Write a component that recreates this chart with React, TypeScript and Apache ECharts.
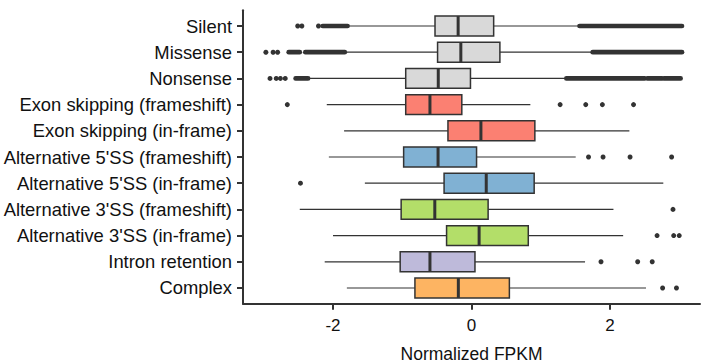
import React, { useEffect, useRef } from "react";
import * as echarts from "echarts";

const categories = [
  "Silent",
  "Missense",
  "Nonsense",
  "Exon skipping (frameshift)",
  "Exon skipping (in-frame)",
  "Alternative 5'SS (frameshift)",
  "Alternative 5'SS (in-frame)",
  "Alternative 3'SS (frameshift)",
  "Alternative 3'SS (in-frame)",
  "Intron retention",
  "Complex",
];

const whiskerLow = [-1.78, -1.83, -2.38, -2.09, -1.84, -2.06, -1.54, -2.48, -2.0, -2.12, -1.8];
const q1 = [-0.527, -0.49, -0.95, -0.95, -0.34, -0.98, -0.396, -1.016, -0.36, -1.03, -0.817];
const median = [-0.193, -0.154, -0.48, -0.6, 0.136, -0.483, 0.213, -0.53, 0.11, -0.6, -0.19];
const q3 = [0.32, 0.41, -0.015, -0.14, 0.915, 0.073, 0.905, 0.24, 0.82, 0.05, 0.547];
const whiskerHigh = [1.56, 1.75, 1.37, 0.85, 2.28, 1.505, 2.77, 2.05, 2.19, 1.64, 2.52];

// isolated outliers: [categoryIndex, value]
const outliers: [number, number][] = [
  [0, -2.21], [0, -2.51], [0, -2.45],
  [1, -2.97], [1, -2.865], [1, -2.8],
  [2, -2.91], [2, -2.82], [2, -2.76], [2, -2.69],
  [3, -2.66], [3, 1.28], [3, 1.65], [3, 1.89], [3, 2.34],
  [5, 1.69], [5, 1.9], [5, 2.29], [5, 2.89],
  [6, -2.47],
  [7, 2.91],
  [8, 2.68], [8, 2.92], [8, 3.0],
  [9, 1.87], [9, 2.4], [9, 2.61],
  [10, 2.76], [10, 2.96],
];

// runs of overlapping outliers: [categoryIndex, from, to]
const denseOutliers: [number, number, number][] = [
  [0, -2.15, -1.79],
  [0, 1.56, 3.04],
  [1, -2.4, -1.83],
  [1, -2.64, -2.48],
  [1, 1.75, 3.04],
  [2, -2.54, -2.36],
  [2, 1.37, 2.5],
  [2, 2.54, 2.75],
  [2, 2.78, 3.02],
];

const xTicks = [-2, 0, 2];

const boxColors = [
  "#d9d9d9", "#d9d9d9", "#d9d9d9",
  "#fb8072", "#fb8072",
  "#80b1d3", "#80b1d3",
  "#b3de69", "#b3de69",
  "#bebada",
  "#fdb462",
];

const FONT = "'Liberation Sans', Arial, Helvetica, sans-serif";
const INK = "#333333";

export default function App() {
  const ref = useRef<HTMLDivElement>(null);

  useEffect(() => {
    const chart = echarts.init(ref.current!, null, { renderer: "svg" });
    const idx = categories.map((_, i) => i);
    const boxData = idx.map((i) => [i, whiskerLow[i], q1[i], median[i], q3[i], whiskerHigh[i]]);

    const renderBox = (params: any, api: any) => {
      const c = api.value(0);
      const lo = api.coord([api.value(1), c]);
      const b1 = api.coord([api.value(2), c]);
      const md = api.coord([api.value(3), c]);
      const b3 = api.coord([api.value(4), c]);
      const hi = api.coord([api.value(5), c]);
      const band = Math.abs(api.size([0, 1])[1]);
      const half = band * 0.38;
      const y = md[1];
      return {
        type: "group",
        children: [
          { type: "line", shape: { x1: lo[0], y1: y, x2: b1[0], y2: y }, style: { stroke: INK, lineWidth: 1.2 } },
          { type: "line", shape: { x1: b3[0], y1: y, x2: hi[0], y2: y }, style: { stroke: INK, lineWidth: 1.2 } },
          {
            type: "rect",
            shape: { x: b1[0], y: y - half, width: b3[0] - b1[0], height: half * 2 },
            style: { fill: boxColors[c], stroke: INK, lineWidth: 1.5 },
          },
          { type: "line", shape: { x1: md[0], y1: y - half, x2: md[0], y2: y + half }, style: { stroke: INK, lineWidth: 3 } },
        ],
      };
    };

    const renderSpan = (params: any, api: any) => {
      const c = api.value(0);
      const a = api.coord([api.value(1), c]);
      const b = api.coord([api.value(2), c]);
      return {
        type: "line",
        shape: { x1: a[0], y1: a[1], x2: b[0], y2: b[1] },
        style: { stroke: INK, lineWidth: 4.7, lineCap: "round" },
      };
    };

    chart.setOption({
      animation: false,
      grid: { left: 243, right: 13, top: 10.3, bottom: 59.3, containLabel: false, outerBoundsMode: "none" },
      xAxis: {
        type: "value",
        min: -3.3,
        max: 3.3,
        splitLine: { show: false },
        axisLine: { onZero: false, lineStyle: { color: INK, width: 2 } },
        axisTick: { customValues: xTicks, length: 6, lineStyle: { color: INK, width: 2 } },
        axisLabel: { customValues: xTicks, fontSize: 17, margin: 13, color: "#111", fontFamily: FONT },
        name: "Normalized FPKM",
        nameLocation: "middle",
        nameGap: 41,
        nameTextStyle: { fontSize: 17.5, color: "#111", fontFamily: FONT },
      },
      yAxis: {
        type: "value",
        inverse: true,
        min: -0.6,
        max: 10.6,
        splitLine: { show: false },
        axisLine: { onZero: false, lineStyle: { color: INK, width: 2 } },
        axisTick: { customValues: idx, length: 6, lineStyle: { color: INK, width: 2 } },
        axisLabel: {
          customValues: idx,
          fontSize: 18.4,
          margin: 11,
          color: "#111",
          fontFamily: FONT,
          formatter: (v: number) => categories[Math.round(v)],
        },
      },
      series: [
        {
          type: "custom",
          renderItem: renderBox,
          data: boxData,
          encode: { x: [1, 2, 3, 4, 5], y: 0 },
          z: 2,
        },
        {
          type: "custom",
          renderItem: renderSpan,
          data: denseOutliers,
          encode: { x: [1, 2], y: 0 },
          z: 3,
        },
        {
          type: "scatter",
          data: outliers.map(([c, v]) => [v, c]),
          symbolSize: 5,
          itemStyle: { color: INK, opacity: 1 },
          z: 3,
        },
      ],
    });

    return () => chart.dispose();
  }, []);

  return <div ref={ref} style={{ position: "absolute", left: 0, top: 0, width: 713, height: 363 }} />;
}
